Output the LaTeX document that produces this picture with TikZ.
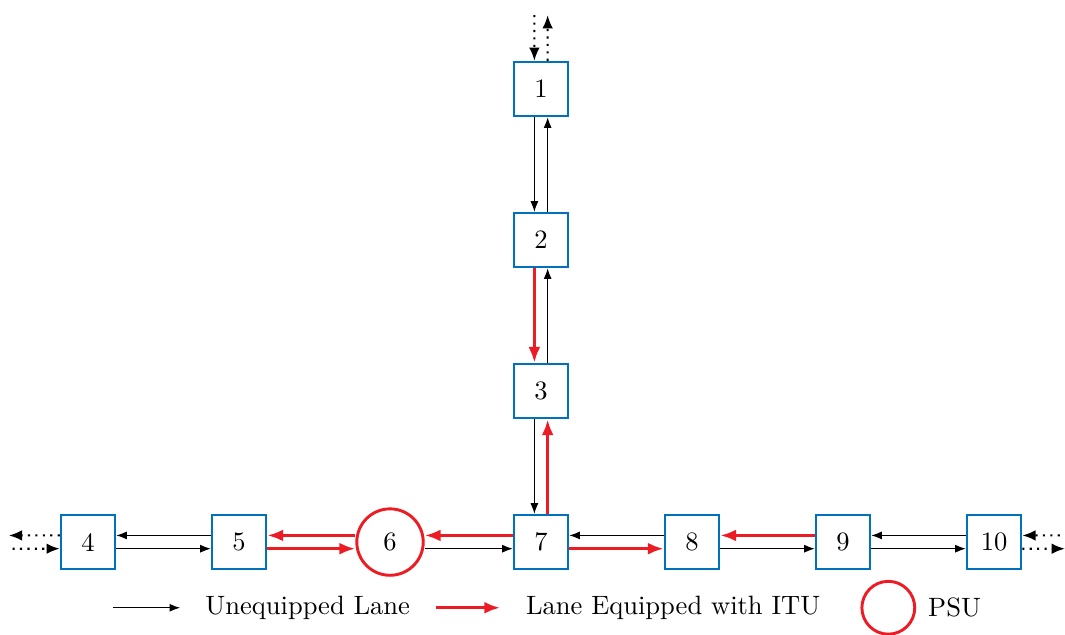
\documentclass[tikz,border=0pt]{standalone}
\usetikzlibrary{arrows.meta,positioning}
\definecolor{nodeblue}{RGB}{0,114,189}
\definecolor{itured}{RGB}{237,28,36}

\begin{document}
\begin{tikzpicture}[
    box/.style={draw=nodeblue,line width=0.8pt,minimum size=0.72cm,inner sep=0pt},
    psu/.style={circle,draw=itured,line width=1.1pt,minimum size=0.88cm,inner sep=0pt},
    lane/.style={-{Latex[length=4pt,width=3pt]},line width=0.4pt},
    itulane/.style={-{Latex[length=6pt,width=4.5pt]},line width=1.2pt,draw=itured,fill=itured},
    extlane/.style={-{Latex[length=5pt,width=4pt]},line width=0.8pt,dotted}
  ]
  \useasboundingbox (-7.166,-1.23) rectangle (6.94,7.18);

  % intersections
  \foreach \n/\y in {1/6,2/4,3/2}
    \node[box] (n\n) at (0,\y) {\n};
  \foreach \n/\x in {4/-6,5/-4,7/0,8/2,9/4,10/6}
    \node[box] (n\n) at (\x,0) {\n};
  \node[psu] (n6) at (-2,0) {6};

  % vertical lanes: down on the left, up on the right
  \draw[lane] ([xshift=-2.5pt]n1.south) -- ([xshift=-2.5pt]n2.north);
  \draw[lane] ([xshift=2.5pt]n2.north) -- ([xshift=2.5pt]n1.south);
  \draw[itulane] ([xshift=-2.5pt]n2.south) -- ([xshift=-2.5pt]n3.north);
  \draw[lane] ([xshift=2.5pt]n3.north) -- ([xshift=2.5pt]n2.south);
  \draw[lane] ([xshift=-2.5pt]n3.south) -- ([xshift=-2.5pt]n7.north);
  \draw[itulane] ([xshift=2.5pt]n7.north) -- ([xshift=2.5pt]n3.south);

  % horizontal lanes: west on top, east below
  \draw[lane] ([yshift=2.5pt]n5.west) -- ([yshift=2.5pt]n4.east);
  \draw[lane] ([yshift=-2.5pt]n4.east) -- ([yshift=-2.5pt]n5.west);
  \draw[itulane] ([yshift=2.5pt]n6.west) -- ([yshift=2.5pt]n5.east);
  \draw[itulane] ([yshift=-2.5pt]n5.east) -- ([yshift=-2.5pt]n6.west);
  \draw[itulane] ([yshift=2.5pt]n7.west) -- ([yshift=2.5pt]n6.east);
  \draw[lane] ([yshift=-2.5pt]n6.east) -- ([yshift=-2.5pt]n7.west);
  \draw[lane] ([yshift=2.5pt]n8.west) -- ([yshift=2.5pt]n7.east);
  \draw[itulane] ([yshift=-2.5pt]n7.east) -- ([yshift=-2.5pt]n8.west);
  \draw[itulane] ([yshift=2.5pt]n9.west) -- ([yshift=2.5pt]n8.east);
  \draw[lane] ([yshift=-2.5pt]n8.east) -- ([yshift=-2.5pt]n9.west);
  \draw[lane] ([yshift=2.5pt]n10.west) -- ([yshift=2.5pt]n9.east);
  \draw[lane] ([yshift=-2.5pt]n9.east) -- ([yshift=-2.5pt]n10.west);

  % lanes leaving the network
  \coordinate (in1) at (-0.088,6.98);
  \coordinate (out1) at (0.088,6.98);
  \coordinate (in4) at (-7.0,-0.088);
  \coordinate (out4) at (-7.05,0.088);
  \coordinate (in10) at (6.97,0.088);
  \coordinate (out10) at (6.94,-0.088);
  \draw[extlane] (in1) -- ([xshift=-2.5pt]n1.north);
  \draw[extlane] ([xshift=2.5pt]n1.north) -- (out1);
  \draw[extlane] (in4) -- ([yshift=-2.5pt]n4.west);
  \draw[extlane] ([yshift=2.5pt]n4.west) -- (out4);
  \draw[extlane] (in10) -- ([yshift=2.5pt]n10.east);
  \draw[extlane] ([yshift=-2.5pt]n10.east) -- (out10);

  % legend
  \coordinate (keya) at (-5.67,-0.87);
  \coordinate (keyb) at (-4.78,-0.87);
  \coordinate (keyc) at (-1.39,-0.87);
  \coordinate (keyd) at (-0.54,-0.87);
  \draw[lane] (keya) -- (keyb);
  \node (lanetxt) at (-3.09,-0.87) {Unequipped Lane};
  \draw[itulane] (keyc) -- (keyd);
  \node (itutxt) at (1.75,-0.87) {Lane Equipped with ITU};
  \node[psu,minimum size=0.7cm] (psukey) at (4.6,-0.87) {};
  \node[right=1pt of psukey] (psutxt) {PSU};
\end{tikzpicture}
\end{document}
